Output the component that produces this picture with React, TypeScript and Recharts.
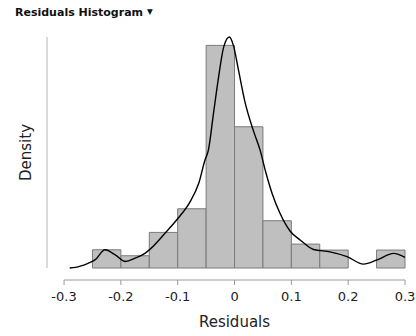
import React from 'react';
import { ComposedChart, Line, XAxis, YAxis, ReferenceArea, ReferenceLine, Label } from 'recharts';

// histogram bins (density scale)
const binEdges = [-0.25, -0.2, -0.15, -0.1, -0.05, 0, 0.05, 0.1, 0.15, 0.2, 0.25, 0.3];
const binDensity = [0.61, 0.41, 1.19, 1.98, 7.44, 4.72, 1.58, 0.8, 0.6, 0, 0.6];

// kernel density curve
const curveX = [
  -0.29, -0.28, -0.27, -0.26, -0.245, -0.228, -0.21, -0.192, -0.175, -0.157, -0.148, -0.122, -0.099,
  -0.078, -0.063, -0.052, -0.046, -0.037, -0.028, -0.019, -0.009, -0.002, 0.007, 0.019, 0.033, 0.045,
  0.055, 0.066, 0.08, 0.098, 0.116, 0.139, 0.168, 0.198, 0.227, 0.251, 0.28, 0.3,
];
const curveDensity = [
  0, 0.02, 0.07, 0.14, 0.28, 0.61, 0.44, 0.22, 0.33, 0.5, 0.64, 1.17, 1.67,
  2.22, 2.83, 3.61, 3.94, 5.17, 6.39, 7.39, 7.72, 7.44, 6.61, 5.5, 4.6, 3.94,
  3.2, 2.5, 1.83, 1.23, 0.93, 0.62, 0.54, 0.38, 0.13, 0.27, 0.49, 0.36,
];

const xTicks = [-0.3, -0.2, -0.1, 0, 0.1, 0.2, 0.3];

const curveData = curveX.map((x, i) => ({ x, d: curveDensity[i] }));
const bins = binDensity
  .map((d, i) => ({ x1: binEdges[i], x2: binEdges[i + 1], d }))
  .filter((b) => b.d > 0);

const FONT = '"DejaVu Sans", sans-serif';
const AXIS_GRAY = '#9a9a9a';

const App: React.FC = () => {
  return (
    <div style={{ position: 'absolute', left: 0, top: 0, width: 416, height: 336, background: '#fff' }}>
      <div
        style={{
          position: 'absolute',
          left: 15,
          top: 5.5,
          fontFamily: FONT,
          fontWeight: 'bold',
          fontSize: 11,
          lineHeight: '14px',
          color: '#111',
          whiteSpace: 'nowrap',
        }}
      >
        Residuals Histogram
        <span style={{ fontSize: 7.5, marginLeft: 4, position: 'relative', top: -1.5 }}>▼</span>
      </div>
      <ComposedChart width={416} height={336} data={curveData} margin={{ top: 37, right: 11, bottom: 0, left: 0 }}>
        <XAxis
          dataKey="x"
          type="number"
          domain={[-0.33, 0.3]}
          ticks={xTicks}
          interval={0}
          height={56}
          axisLine={false}
          tickLine={{ stroke: AXIS_GRAY }}
          tickSize={5}
          tickMargin={7}
          tick={{ fill: '#222', fontSize: 13, fontFamily: FONT }}
        >
          <Label
            content={({ viewBox }: any) => (
              <text
                x={viewBox.x + 187.5}
                y={viewBox.y + 47}
                textAnchor="middle"
                fontFamily={FONT}
                fontSize={15}
                fill="#222"
              >
                Residuals
              </text>
            )}
          />
        </XAxis>
        <YAxis type="number" domain={[-0.4, 7.72]} width={47} axisLine={false} tickLine={false} tick={false}>
          <Label
            content={({ viewBox }: any) => (
              <text
                x={viewBox.x + 30.5}
                y={viewBox.y + 115.5}
                textAnchor="middle"
                fontFamily={FONT}
                fontSize={15}
                fill="#222"
                transform={`rotate(-90, ${viewBox.x + 30.5}, ${viewBox.y + 115.5})`}
              >
                Density
              </text>
            )}
          />
        </YAxis>
        <ReferenceLine
          segment={[{ x: -0.3, y: -0.4 }, { x: 0.3, y: -0.4 }]}
          stroke={AXIS_GRAY}
          ifOverflow="visible"
        />
        <ReferenceLine
          segment={[{ x: -0.33, y: 0 }, { x: -0.33, y: 7.72 }]}
          stroke="#b5b5b5"
          ifOverflow="visible"
        />
        {bins.map((b) => (
          <ReferenceArea
            key={b.x1}
            x1={b.x1}
            x2={b.x2}
            y1={0}
            y2={b.d}
            fill="#bfbfbf"
            fillOpacity={1}
            stroke="#7a7a7a"
            strokeWidth={1}
            ifOverflow="visible"
          />
        ))}
        <Line
          dataKey="d"
          type="monotone"
          stroke="#000"
          strokeWidth={1.4}
          dot={false}
          activeDot={false}
          isAnimationActive={false}
        />
      </ComposedChart>
    </div>
  );
};

export default App;
